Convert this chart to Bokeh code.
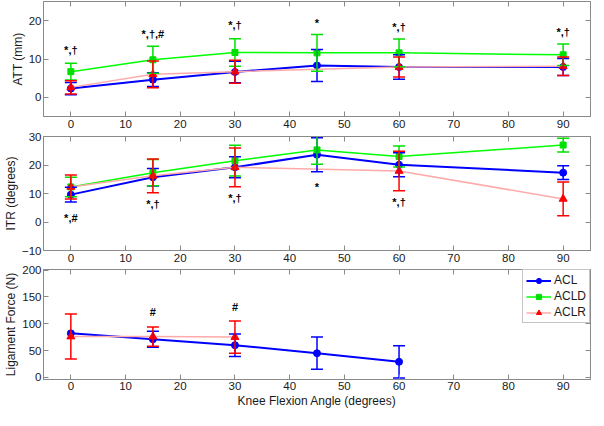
from bokeh.plotting import figure
from bokeh.models import (ColumnDataSource, Whisker, TeeHead, Range1d, FixedTicker,
                          LinearAxis, Legend, LegendItem)
from bokeh.layouts import column
from bokeh.embed import file_html
from bokeh.resources import INLINE
from bokeh.core.properties import value

FONT = "Liberation Sans"
GRAY = "#8a8a8a"
TXT = "#1a1a1a"
NAN = float("nan")

# ---------------- data ----------------
angles = [0, 15, 30, 45, 60, 90]
angles_aclr = [0, 15, 30, 60, 90]
angles_force_acl = [0, 15, 30, 45, 60]
angles_force_aclr = [0, 15, 30]

att_acl_mean = [2.3, 4.6, 6.6, 8.3, 7.9, 7.9]
att_acl_sd = [1.6, 1.8, 2.8, 4.2, 3.2, 2.2]
att_acld_mean = [6.7, 9.8, 11.7, 11.6, 11.6, 11.1]
att_acld_sd = [2.2, 3.5, 3.6, 4.8, 3.6, 2.8]
att_aclr_mean = [2.6, 6.0, 6.7, 7.9, 8.1]
att_aclr_sd = [1.7, 3.5, 3.0, 2.6, 2.4]

itr_acl_mean = [9.6, 15.7, 19.2, 23.6, 20.1, 17.3]
itr_acl_sd = [2.6, 3.1, 3.7, 6.0, 4.2, 2.4]
itr_acld_mean = [12.3, 17.3, 21.5, 25.3, 23.0, 27.0]
itr_acld_sd = [3.4, 4.6, 5.4, 5.0, 3.7, 2.4]
itr_aclr_mean = [12.3, 16.2, 19.2, 17.9, 8.1]
itr_aclr_sd = [4.2, 5.9, 6.8, 6.9, 5.9]

force_acl_mean = [82, 71, 60, 45, 29]
force_acl_sd = [None, 15, 21, 30, 30]
force_aclr_mean = [76, 76, 75]
force_aclr_sd = [42, 18, 30]

att_marks_x = [0, 15, 30, 45, 60, 90]
att_marks_text = ["*,†", "*,†,#", "*,†", "*", "*,†", "*,†"]
att_marks_y = [10.8, 14.9, 17.3, 17.9, 16.9, 15.6]
itr_marks_x = [0, 15, 30, 45, 60]
itr_marks_text = ["*,#", "*,†", "*,†", "*", "*,†"]
itr_marks_y = [-0.8, 4.2, 6.3, 10.1, 4.9]
force_marks_x = [15, 30]
force_marks_text = ["#", "#"]
force_marks_y = [110, 120]

x_ticks = [0, 10, 20, 30, 40, 50, 60, 70, 80, 90]
att_ticks = [0, 10, 20]
itr_ticks = [-10, 0, 10, 20, 30]
force_ticks = [0, 50, 100, 150, 200]

STYLES = {
    "ACL": dict(line="#0000ff", lw=2, marker="circle", msize=7, mcolor="#0000ff", err="#0000ff"),
    "ACLD": dict(line="#00ff00", lw=1.5, marker="square", msize=6, mcolor="#00e000", err="#00e000"),
    "ACLR": dict(line="#ffaaaa", lw=1.5, marker="triangle", msize=8, mcolor="#ff0000", err="#ff0000"),
}


def style_axis(ax, ticks, labels=True, standoff=3):
    ax.ticker = FixedTicker(ticks=ticks)
    ax.axis_line_color = GRAY
    ax.major_tick_line_color = GRAY
    ax.major_tick_in = 5
    ax.major_tick_out = 0
    ax.minor_tick_in = 0
    ax.minor_tick_out = 0
    ax.minor_tick_line_color = None
    ax.axis_label_text_font = FONT
    ax.axis_label_text_font_style = "normal"
    ax.axis_label_text_color = TXT
    ax.axis_label_text_font_size = "12px"
    ax.axis_label_standoff = 1
    if labels:
        ax.major_label_text_font = FONT
        ax.major_label_text_color = TXT
        ax.major_label_text_font_size = "11.5px"
        ax.major_label_standoff = standoff
    else:
        # mirrored tick marks only (MATLAB box style); labels not drawn
        ax.major_label_text_font_size = "1px"
        ax.major_label_text_alpha = 0
        ax.major_label_standoff = 0


def make_panel(height, yr, yticks, ylabel, top_border, xlabel=None):
    p = figure(width=592, height=height, x_range=Range1d(-5, 95), y_range=Range1d(*yr),
               output_backend="svg", toolbar_location=None,
               min_border_left=36, min_border_right=2, min_border_top=top_border,
               min_border_bottom=0)
    p.grid.visible = False
    p.outline_line_color = GRAY
    p.background_fill_color = "white"
    p.border_fill_color = "white"
    style_axis(p.xaxis[0], x_ticks, standoff=3 if xlabel is None else 2)
    style_axis(p.yaxis[0], yticks, standoff=2)
    p.yaxis[0].axis_label = ylabel
    if xlabel:
        p.xaxis[0].axis_label = xlabel
    rax = LinearAxis()
    style_axis(rax, yticks, labels=False)
    p.add_layout(rax, "right")
    tax = LinearAxis()
    style_axis(tax, x_ticks, labels=False)
    p.add_layout(tax, "above")
    return p


def add_series(p, x, mean, sd, name):
    st = STYLES[name]
    src = ColumnDataSource(dict(x=x, y=mean))
    ex = [xi for xi, s in zip(x, sd) if s is not None]
    lo = [m - s for m, s in zip(mean, sd) if s is not None]
    hi = [m + s for m, s in zip(mean, sd) if s is not None]
    esrc = ColumnDataSource(dict(x=ex, lower=lo, upper=hi))
    line = p.line("x", "y", source=src, line_color=st["line"], line_width=st["lw"])
    w = Whisker(source=esrc, base="x", lower="lower", upper="upper",
                line_color=st["err"], line_width=1.5, level="glyph",
                upper_head=TeeHead(size=12, line_color=st["err"], line_width=1.5),
                lower_head=TeeHead(size=12, line_color=st["err"], line_width=1.5))
    p.add_layout(w)
    sc = p.scatter("x", "y", source=src, marker=st["marker"], size=st["msize"],
                   fill_color=st["mcolor"], line_color=st["mcolor"])
    return [line, sc]


def add_marks(p, xs, ys, texts):
    src = ColumnDataSource(dict(x=xs, y=ys, t=texts))
    p.text("x", "y", text="t", source=src, text_align="center", text_baseline="bottom",
           text_font=value(FONT), text_font_size="11px", text_font_style="bold", text_color="black")


# Panel 1: ATT
p1 = make_panel(130, (-5, 25), att_ticks, "ATT (mm)", 1)
add_series(p1, angles, att_acl_mean, att_acl_sd, "ACL")
add_series(p1, angles, att_acld_mean, att_acld_sd, "ACLD")
add_series(p1, angles_aclr, att_aclr_mean, att_aclr_sd, "ACLR")
add_marks(p1, att_marks_x, att_marks_y, att_marks_text)

# Panel 2: ITR
p2 = make_panel(134, (-10, 30), itr_ticks, "ITR (degrees)", 6)
add_series(p2, angles, itr_acl_mean, itr_acl_sd, "ACL")
add_series(p2, angles, itr_acld_mean, itr_acld_sd, "ACLD")
add_series(p2, angles_aclr, itr_aclr_mean, itr_aclr_sd, "ACLR")
add_marks(p2, itr_marks_x, itr_marks_y, itr_marks_text)

# Panel 3: Ligament force
p3 = make_panel(146, (-4, 201), force_ticks, "Ligament Force (N)", 5,
                xlabel="Knee Flexion Angle (degrees)")
r_acl = add_series(p3, angles_force_acl, force_acl_mean, force_acl_sd, "ACL")
r_acld = add_series(p3, [NAN], [NAN], [None], "ACLD")
r_aclr = add_series(p3, angles_force_aclr, force_aclr_mean, force_aclr_sd, "ACLR")
add_marks(p3, force_marks_x, force_marks_y, force_marks_text)

legend = Legend(items=[LegendItem(label="ACL", renderers=r_acl),
                       LegendItem(label="ACLD", renderers=r_acld),
                       LegendItem(label="ACLR", renderers=r_aclr)],
                location="top_right", margin=0, padding=3, spacing=2,
                glyph_width=25, glyph_height=13, label_height=13, label_standoff=3,
                label_text_font=FONT, label_text_font_size="12px", label_text_color=TXT,
                border_line_color=GRAY, background_fill_color="white", background_fill_alpha=1)
p3.add_layout(legend)

layout = column(p1, p2, p3, spacing=0)
open("out.html", "w").write(file_html(layout, INLINE))
